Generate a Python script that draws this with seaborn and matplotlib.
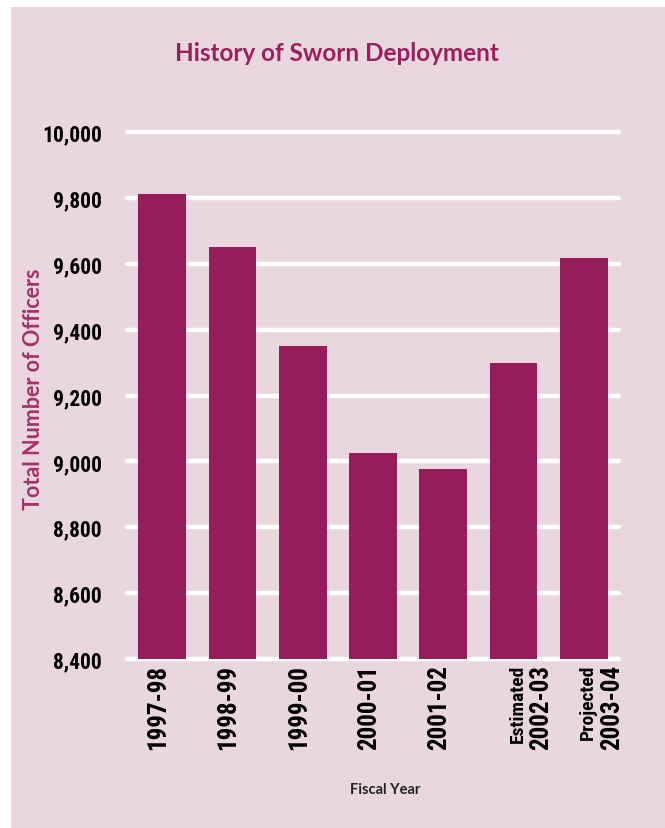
import matplotlib
matplotlib.use("Agg")
import matplotlib.pyplot as plt
import matplotlib.transforms as mtransforms
from matplotlib import font_manager as fm
from matplotlib.patches import Rectangle
import seaborn as sns
import pandas as pd

# Sworn officer deployment by fiscal year
years = ["1997-98", "1998-99", "1999-00", "2000-01", "2001-02", "2002-03", "2003-04"]
qualifiers = ["", "", "", "", "", "Estimated", "Projected"]
officers = [9812, 9652, 9349, 9025, 8977, 9299, 9616]
y_ticks = [8400, 8600, 8800, 9000, 9200, 9400, 9600, 9800, 10000]

df = pd.DataFrame({"year": years, "officers": officers})

BG = "#EAD6DE"
BAR = "#961C5B"
TITLE = "#9B1F5F"
HUMAN = ["Lato", "DejaVu Sans"]


def condensed_bold_path():
    """Find a bold narrow/condensed face among installed fonts."""
    best = None
    for f in fm.fontManager.ttflist:
        narrow = ("Narrow" in f.name or "Condensed" in f.name
                  or "ondensed" in f.fname or "Narrow" in f.fname
                  or f.stretch in ("condensed", "semi-condensed", "extra-condensed"))
        bold = f.weight in ("bold", 700, "heavy") or (isinstance(f.weight, int) and f.weight >= 600)
        italic = f.style != "normal"
        if narrow and bold and not italic:
            if best is None or "Roboto" in f.name or "Liberation" in f.name:
                best = f.fname
    return best


_path = condensed_bold_path()


def cond(size):
    if _path:
        return fm.FontProperties(fname=_path, size=size)
    return fm.FontProperties(family="DejaVu Sans", weight="bold", size=size * 0.85)


sns.set_theme(style="white")
plt.rcParams["font.family"] = ["DejaVu Sans"]

W, H = 665, 829
fig = plt.figure(figsize=(W / 100, H / 100), dpi=100, facecolor="white")
fig.patches.append(Rectangle((11 / W, 0), 1 - 11 / W, 1 - 8 / H,
                             transform=fig.transFigure, facecolor=BG,
                             edgecolor="none", zorder=-10))

ax = fig.add_axes([127 / W, 1 - 660 / H, 492 / W, 527 / H])
ax.set_facecolor("none")

sns.barplot(data=df, x="year", y="officers", color=BAR, width=0.68,
            saturation=1, linewidth=0, edgecolor="none", ax=ax, zorder=3)

ax.set_ylim(y_ticks[0], y_ticks[-1])
ax.set_xlim(-0.5, len(years) - 0.5)
for v in y_ticks:
    ax.axhline(v, color="white", lw=3.2, zorder=1, clip_on=False)

for s in ax.spines.values():
    s.set_visible(False)

ax.set_yticks(y_ticks)
ax.set_yticklabels([f"{v:,}" for v in y_ticks])
for lab in ax.get_yticklabels():
    lab.set_fontproperties(cond(15.5))
    lab.set_color("black")
ax.tick_params(axis="y", length=0, pad=18)
ax.set_xticks([])
ax.set_xlabel("")
ax.set_ylabel("")

# Rotated category labels under each bar
for i, (yr, q) in enumerate(zip(years, qualifiers)):
    if q:
        tr_year = mtransforms.offset_copy(ax.get_xaxis_transform(), fig=fig,
                                          x=28, y=-5, units="dots")
        tr_q = mtransforms.offset_copy(ax.get_xaxis_transform(), fig=fig,
                                       x=4, y=-5, units="dots")
        ax.text(i, 0, q, transform=tr_q, rotation=90, ha="center", va="top",
                fontproperties=cond(14), color="black")
    else:
        tr_year = mtransforms.offset_copy(ax.get_xaxis_transform(), fig=fig,
                                          x=-4, y=-5, units="dots")
    ax.text(i, 0, yr, transform=tr_year, rotation=90, ha="center", va="top",
            fontproperties=cond(18), color="black")

fig.text(337 / W, 1 - 61 / H, "History of Sworn Deployment", ha="center",
         va="baseline", fontsize=17.5, color=TITLE, family=HUMAN,
         fontweight="bold")
fig.text(34 / W, 1 - 389 / H, "Total Number of Officers", rotation=90,
         ha="center", va="center", fontsize=15.5, color="#A3326B",
         family=HUMAN, fontweight="bold")
fig.text(385 / W, 1 - 794 / H, "Fiscal Year", ha="center", va="baseline",
         fontsize=10.5, color="#222222", family=HUMAN, fontweight="bold")

fig.savefig("out.png", dpi=100, facecolor="white")
